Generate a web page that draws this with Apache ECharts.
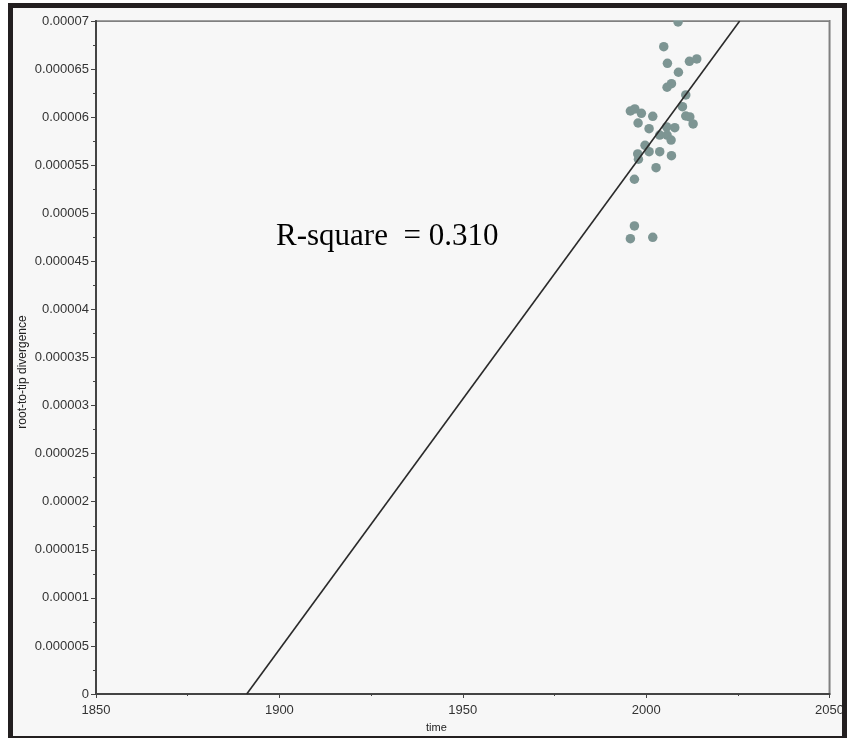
<!DOCTYPE html>
<html>
<head>
<meta charset="utf-8">
<script src="https://cdn.jsdelivr.net/npm/echarts@6/dist/echarts.min.js"></script>
<style>
html,body{margin:0;padding:0;background:#fff;}
#c{width:847px;height:738px;}
</style>
</head>
<body>
<div id="c"></div>
<script>
// Sampling years of the tips
const years = [2008.7,2004.8,2005.8,2011.8,2013.8,2008.8,2006.9,2005.7,2010.8,2009.9,
  1995.7,1996.9,1998.7,2001.8,2010.8,2011.9,2012.8,1997.8,2000.8,2005.6,
  2007.8,2003.7,2005.7,2006.8,1999.7,2000.8,2003.7,1997.7,1997.9,2006.9,
  2002.7,1996.8,1996.8,1995.7,2001.8];
// Root-to-tip divergence (x 1e-6)
const divergenceE6 = [69.9,67.33,65.60,65.81,66.05,64.67,63.48,63.11,62.31,61.09,
  60.64,60.85,60.40,60.09,60.12,60.02,59.29,59.39,58.80,58.98,
  58.90,58.14,58.14,57.62,57.07,56.41,56.41,56.17,55.62,55.99,
  54.74,53.54,48.68,47.36,47.50];
// Regression line end points
const lineYears = [1891.1, 2025.5];
const lineValues = [0, 0.00007];
// Tick labels
const xTickLabels = ['1850','1900','1950','2000','2050'];
const yTickLabels = ['0','0.000005','0.00001','0.000015','0.00002','0.000025','0.00003',
  '0.000035','0.00004','0.000045','0.00005','0.000055','0.00006','0.000065','0.00007'];
const rSquareText = 'R-square  = 0.310';

const points = years.map((y,i)=>[y, divergenceE6[i]*1e-6]);
const linePts = lineYears.map((y,i)=>[y, lineValues[i]]);

const chart = echarts.init(document.getElementById('c'));
const labelStyle = {color:'#333', fontFamily:'Liberation Sans, Arial, sans-serif', fontSize:13};
chart.setOption({
  backgroundColor:'#f7f7f7',
  animation:false,
  grid:{left:96, top:21, right:17, bottom:44, show:true, borderColor:'#808080', borderWidth:2, backgroundColor:'transparent'},
  xAxis:{
    type:'value', min:1850, max:2050, interval:50,
    axisLine:{show:true, onZero:false, lineStyle:{color:'#444', width:2}},
    axisTick:{show:true, length:4, lineStyle:{color:'#444', width:1}},
    minorTick:{show:true, splitNumber:2, length:2, lineStyle:{color:'#444'}},
    splitLine:{show:false},
    axisLabel:Object.assign({margin:10, formatter:(v)=>xTickLabels[Math.round((v-1850)/50)]}, labelStyle)
  },
  yAxis:{
    type:'value', min:0, max:0.00007, interval:0.000005,
    axisLine:{show:true, onZero:false, lineStyle:{color:'#444', width:2}},
    axisTick:{show:true, length:5, lineStyle:{color:'#444', width:1}},
    minorTick:{show:true, splitNumber:2, length:3, lineStyle:{color:'#444'}},
    splitLine:{show:false},
    axisLabel:Object.assign({margin:7, formatter:(v)=>yTickLabels[Math.round(v/0.000005)]}, labelStyle)
  },
  series:[
    {type:'scatter', data:points, symbolSize:9.5, itemStyle:{color:'#7d9593', opacity:1}, z:3},
    {type:'line', data:linePts, symbol:'none', lineStyle:{color:'#2a2a2a', width:1.6}, z:4}
  ],
  graphic:[
    {type:'rect', z:50, silent:true, shape:{x:97, y:8, width:732, height:12.2}, style:{fill:'#f7f7f7'}},
    {type:'text', z:60, left:276, top:221, style:{text:rSquareText, font:'31px "Liberation Serif", "Times New Roman", serif', fill:'#000'}},
    {type:'text', z:60, left:426, top:722, style:{text:'time', font:'11px "Liberation Sans", Arial, sans-serif', fill:'#222'}},
    {type:'text', z:60, x:23, y:372, rotation:Math.PI/2, style:{text:'root-to-tip divergence', font:'12px "Liberation Sans", Arial, sans-serif', fill:'#222', align:'center', verticalAlign:'middle'}},
    {type:'rect', z:100, silent:true, shape:{x:0, y:0, width:8, height:738}, style:{fill:'#fff'}},
    {type:'rect', z:100, silent:true, shape:{x:0, y:0, width:847, height:3}, style:{fill:'#fff'}},
    {type:'rect', z:101, silent:true, shape:{x:10.5, y:5.5, width:834, height:733}, style:{fill:'none', stroke:'#231f20', lineWidth:5}}
  ]
});
</script>
</body>
</html>
